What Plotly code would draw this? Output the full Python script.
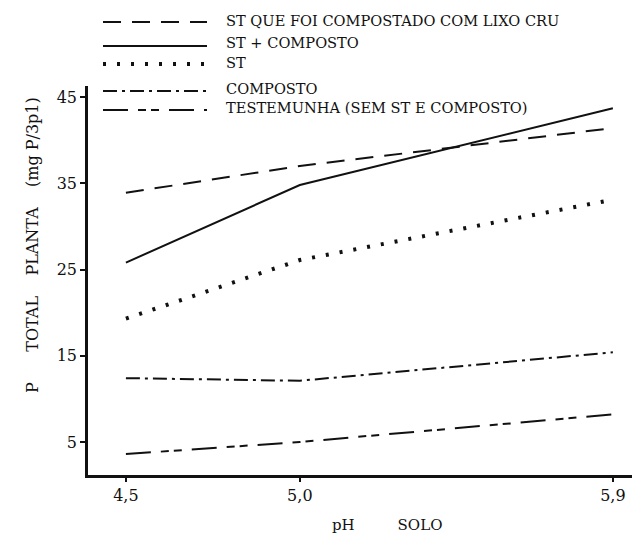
import plotly.graph_objects as go

# Data
ph = [4.5, 5.0, 5.9]
ph_labels = ["4,5", "5,0", "5,9"]
series_names = [
    "ST QUE FOI COMPOSTADO COM LIXO CRU",
    "ST + COMPOSTO",
    "ST",
    "COMPOSTO",
    "TESTEMUNHA (SEM ST E COMPOSTO)",
]
st_lixo_cru = [33.9, 37.0, 41.4]
st_composto = [25.8, 34.8, 43.7]
st_only = [19.3, 26.1, 33.1]
composto = [12.4, 12.1, 15.4]
testemunha = [3.6, 5.0, 8.2]
y_ticks = [5, 15, 25, 35, 45]

FONT = "DejaVu Serif, Liberation Serif, serif"
INK = "#111111"

styles = [
    dict(dash="18px,11px", width=2),
    dict(dash="solid", width=2),
    dict(dash="3px,11px", width=4),
    dict(dash="14px,5px,3px,5px", width=2),
    dict(dash="25px,10px,8px,5px,8px,10px", width=2),
]
values = [st_lixo_cru, st_composto, st_only, composto, testemunha]

fig = go.Figure()
for name, vals, st in zip(series_names, values, styles):
    fig.add_trace(go.Scatter(
        x=ph, y=vals, mode="lines", name=name,
        line=dict(color=INK, width=st["width"], dash=st["dash"]),
        showlegend=False,
    ))

# Layout geometry (pixels)
W, H = 634, 537
L, R, T, B = 88, 2, 86, 62
pw = W - L - R
ph_px = H - T - B

def px_x(x):
    return (x - L) / pw

def px_y(y):
    return (H - B - y) / ph_px

# Manual legend (long line samples like the original)
rows_text = [20, 43, 63, 88, 107]
rows_line = [22, 46, 64, 91, 110]
shapes = []
annotations = []
for name, st, yt, yl in zip(series_names, styles, rows_text, rows_line):
    shapes.append(dict(
        type="line", xref="paper", yref="paper",
        x0=px_x(103), x1=px_x(207), y0=px_y(yl), y1=px_y(yl),
        line=dict(color=INK, width=st["width"], dash=st["dash"]),
    ))
    annotations.append(dict(
        text=name, xref="paper", yref="paper",
        x=px_x(224), y=px_y(yt), xanchor="left", yanchor="middle",
        showarrow=False, font=dict(family=FONT, size=14.6, color=INK),
    ))

annotations.append(dict(
    text="P      TOTAL    PLANTA    (mg P/3p1)", xref="paper", yref="paper",
    x=px_x(32), y=px_y(245), xanchor="center", yanchor="middle",
    textangle=-90, showarrow=False, font=dict(family=FONT, size=16, color=INK),
))
annotations.append(dict(
    text="pH         SOLO", xref="paper", yref="paper",
    x=px_x(387), y=px_y(525), xanchor="center", yanchor="middle",
    showarrow=False, font=dict(family=FONT, size=15, color=INK),
))

fig.update_layout(
    width=W, height=H,
    margin=dict(l=L, r=R, t=T, b=B, pad=0),
    paper_bgcolor="white", plot_bgcolor="white",
    showlegend=False,
    shapes=shapes, annotations=annotations,
    font=dict(family=FONT, size=15, color=INK),
)
fig.update_xaxes(
    range=[4.391, 5.955], tickvals=ph, ticktext=ph_labels,
    showline=True, linecolor=INK, linewidth=2.5, mirror=False,
    ticks="outside", ticklen=4, tickcolor=INK, tickwidth=2,
    showgrid=False, zeroline=False,
    tickfont=dict(family=FONT, size=16, color=INK),
)
fig.update_yaxes(
    range=[1.17, 46.28], tickvals=y_ticks,
    showline=True, linecolor=INK, linewidth=2.5, mirror=False,
    ticks="outside", ticklen=5, tickcolor=INK, tickwidth=2,
    showgrid=False, zeroline=False,
    tickfont=dict(family=FONT, size=16, color=INK),
)

fig.write_html("out.html")
